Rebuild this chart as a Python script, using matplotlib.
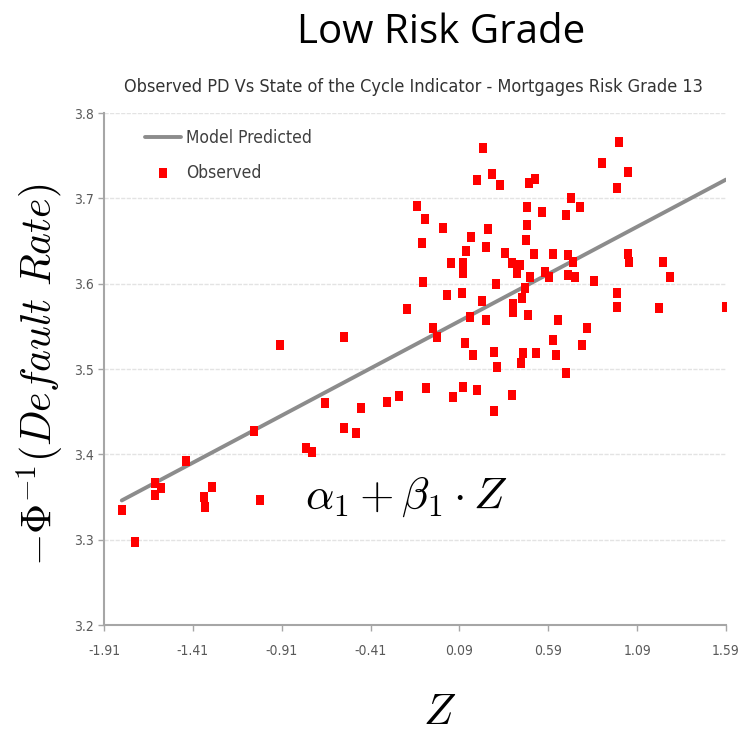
import matplotlib
matplotlib.use("Agg")
import matplotlib.pyplot as plt
import numpy as np

# ---- data ----
obs_z = [-1.809, -1.735, -1.623, -1.623, -1.590, -1.449, -1.347, -1.342, -1.302, -1.066,
         -1.032, -0.920, -0.773, -0.740, -0.666, -0.559, -0.560, -0.492, -0.464, -0.317,
         -0.250, -0.205, -0.149, -0.104, -0.120, -0.115, -0.098, -0.059, -0.036, -0.002,
         0.020, 0.043, 0.054, 0.105, 0.110, 0.110, 0.110, 0.121, 0.127, 0.150,
         0.155, 0.166, 0.189, 0.189, 0.217, 0.222, 0.240, 0.240, 0.251, 0.273,
         0.285, 0.285, 0.296, 0.301, 0.318, 0.346, 0.386, 0.386, 0.392, 0.392,
         0.414, 0.431, 0.437, 0.442, 0.448, 0.460, 0.464, 0.470, 0.470, 0.476,
         0.480, 0.487, 0.510, 0.515, 0.521, 0.555, 0.572, 0.594, 0.617, 0.617,
         0.634, 0.645, 0.690, 0.690, 0.701, 0.701, 0.718, 0.729, 0.740, 0.769,
         0.780, 0.808, 0.847, 0.892, 0.977, 0.977, 0.977, 0.988, 1.039, 1.039,
         1.044, 1.213, 1.236, 1.275, 1.590]
obs_y = [3.335, 3.297, 3.366, 3.352, 3.361, 3.392, 3.350, 3.338, 3.362, 3.427,
         3.347, 3.528, 3.408, 3.403, 3.460, 3.431, 3.537, 3.425, 3.454, 3.461,
         3.468, 3.570, 3.691, 3.676, 3.648, 3.602, 3.478, 3.548, 3.537, 3.665,
         3.587, 3.624, 3.467, 3.589, 3.624, 3.612, 3.479, 3.530, 3.638, 3.561,
         3.655, 3.517, 3.721, 3.476, 3.580, 3.759, 3.643, 3.557, 3.664, 3.728,
         3.520, 3.451, 3.600, 3.502, 3.716, 3.636, 3.624, 3.469, 3.576, 3.567,
         3.612, 3.622, 3.507, 3.583, 3.519, 3.595, 3.651, 3.690, 3.669, 3.563,
         3.718, 3.608, 3.635, 3.723, 3.519, 3.684, 3.614, 3.608, 3.635, 3.534,
         3.516, 3.557, 3.680, 3.495, 3.634, 3.610, 3.700, 3.625, 3.608, 3.690,
         3.528, 3.548, 3.603, 3.741, 3.712, 3.589, 3.573, 3.766, 3.731, 3.635,
         3.625, 3.571, 3.625, 3.608, 3.573]
model_z = [-1.81, 1.59]
model_y = [3.346, 3.722]
x_ticks = [-1.91, -1.41, -0.91, -0.41, 0.09, 0.59, 1.09, 1.59]
y_ticks = [3.2, 3.3, 3.4, 3.5, 3.6, 3.7, 3.8]

plt.rcParams['mathtext.fontset'] = 'cm'

fig = plt.figure(figsize=(7.44, 7.33), dpi=100)
ax = fig.add_axes([0.1398, 0.1473, 0.836, 0.6985])

ax.plot(model_z, model_y, color='#8c8c8c', lw=2.8, solid_capstyle='round',
        label='Model Predicted', zorder=2)
sq = [(-0.8, -1), (0.8, -1), (0.8, 1), (-0.8, 1), (-0.8, -1)]
ax.scatter(obs_z, obs_y, marker=sq, s=55, color='#ff0000', linewidths=0,
           label='Observed', zorder=3)

ax.set_xlim(-1.91, 1.59)
ax.set_ylim(3.2, 3.8)
ax.set_xticks(x_ticks)
ax.set_xticklabels([f"{v:.2f}" for v in x_ticks])
ax.set_yticks(y_ticks)
ax.set_yticklabels([f"{v:.1f}" for v in y_ticks])
for lab in ax.get_xticklabels() + ax.get_yticklabels():
    lab.set_family('DejaVu Sans')
    lab.set_stretch('condensed')
    lab.set_fontsize(10)
    lab.set_color('#595959')
ax.tick_params(axis='both', length=4, width=1, color='#a6a6a6')
ax.tick_params(axis='x', pad=10)
ax.tick_params(axis='y', pad=3)
ax.grid(axis='y', color='#e3e3e3', lw=1, ls=(0, (3, 1)))
ax.set_axisbelow(True)
for s in ['top', 'right']:
    ax.spines[s].set_visible(False)
for s in ['left', 'bottom']:
    ax.spines[s].set_color('#a6a6a6')
    ax.spines[s].set_linewidth(1.5)

leg = ax.legend(loc='upper left', bbox_to_anchor=(0.04, 1.0), frameon=False,
                prop={'family': 'DejaVu Sans', 'stretch': 'condensed', 'size': 12.5},
                handlelength=2.1, handletextpad=0.3, labelspacing=1.0)
for t in leg.get_texts():
    t.set_color('#404040')

ax.text(-0.78, 3.35, r'$\alpha_1 + \beta_1 \cdot Z$', fontsize=32, va='center',
        ha='left', color='black')

fig.text(0.593, 0.955, 'Low Risk Grade', fontsize=29, ha='center', va='center',
         family=['Open Sans', 'DejaVu Sans'])
fig.text(0.556, 0.881, 'Observed PD Vs State of the Cycle Indicator - Mortgages Risk Grade 13',
         fontsize=13, ha='center', va='center', family='DejaVu Sans',
         stretch='condensed', color='#333333')
fig.text(0.054, 0.488, r'$-\Phi^{-1}(Default\ Rate)$', fontsize=30, rotation=90,
         ha='center', va='center')
fig.text(0.591, 0.029, r'$Z$', fontsize=31, ha='center', va='center')

fig.savefig('out.png', dpi=100, facecolor='white')
